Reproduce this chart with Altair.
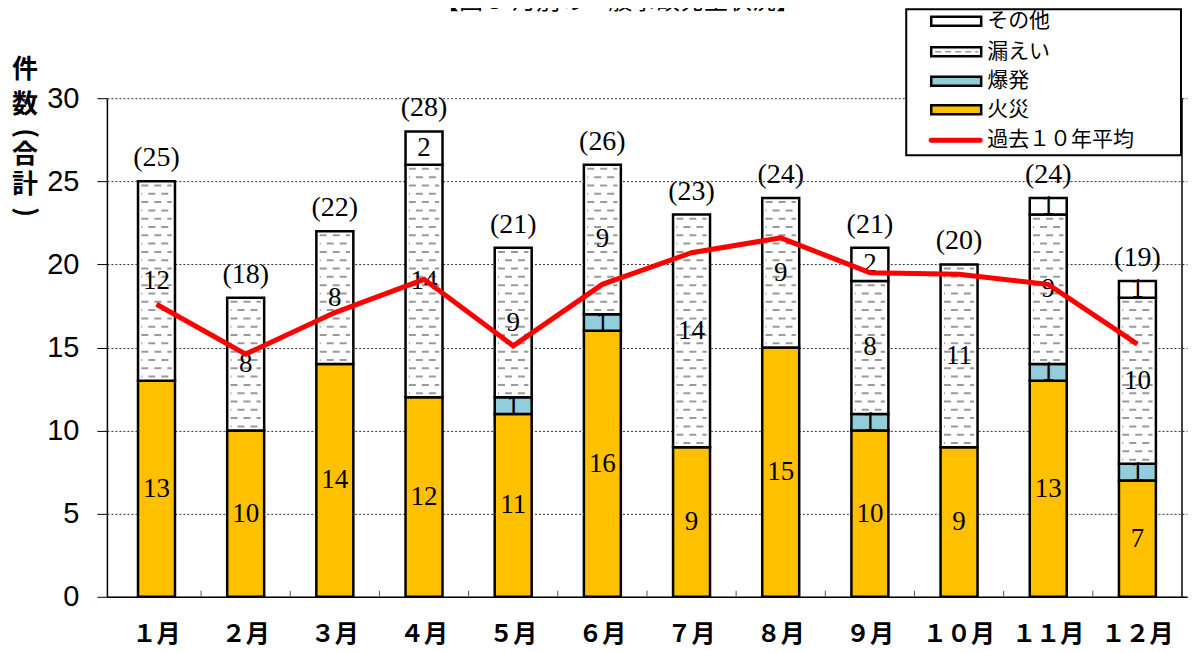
import altair as alt
import pandas as pd

# ---- data ----
months = ["１月", "２月", "３月", "４月", "５月", "６月", "７月", "８月", "９月", "１０月", "１１月", "１２月"]
fire = [13, 10, 14, 12, 11, 16, 9, 15, 10, 9, 13, 7]          # 火災
explosion = [0, 0, 0, 0, 1, 1, 0, 0, 1, 0, 1, 1]               # 爆発
leak = [12, 8, 8, 14, 9, 9, 14, 9, 8, 11, 9, 10]                # 漏えい
other = [0, 0, 0, 2, 0, 0, 0, 0, 2, 0, 1, 1]                    # その他
avg10 = [17.6, 14.6, 17.1, 19.1, 15.1, 18.8, 20.7, 21.6, 19.5, 19.4, 18.8, 15.2]  # 過去１０年平均
y_ticks = [0, 5, 10, 15, 20, 25, 30]

series_names = ["火災", "爆発", "漏えい", "その他"]
series_vals = [fire, explosion, leak, other]
series_colors = ["#FFC000", "#92CDDC", "#FFFFFF", "#FFFFFF"]
legend_order = ["その他", "漏えい", "爆発", "火災", "過去１０年平均"]

W, H = 1081, 499

# ---- tables ----
rows = []
dash_rows = []
for i, m in enumerate(months):
    base = 0
    for name, vals in zip(series_names, series_vals):
        v = vals[i]
        rows.append(dict(month=m, xc=i + 0.5, series=name, value=v,
                         y0=base, y1=base + v, mid=base + v / 2))
        if name == "漏えい" and v > 0:
            # hatch pattern rows (decoration only)
            k = 0
            yy = base + v - 0.25
            while yy > base + 0.1:
                dash_rows.append(dict(xc=i + 0.5, yy=yy, par=k % 2))
                yy -= 0.5
                k += 1
        base += v
seg = pd.DataFrame(rows)
seg = seg[seg.value > 0]
dashes = pd.DataFrame(dash_rows)

totals = [a + b + c + d for a, b, c, d in zip(fire, explosion, leak, other)]
mdf = pd.DataFrame(dict(month=months, xc=[i + 0.5 for i in range(12)], total=totals,
                        avg=avg10, tlabel=["(%d)" % t for t in totals]))
bounds = pd.DataFrame(dict(b=list(range(1, 12))))

xs = alt.Scale(domain=[0, 12], nice=False, zero=False)
ys = alt.Scale(domain=[0, 30], nice=False, zero=True)

xaxis = alt.Axis(labels=False, ticks=False, grid=False, title=None,
                 domainColor="black", domainWidth=1.5)
yaxis = alt.Axis(values=y_ticks, grid=True, gridDash=[2, 2], gridColor="#333", gridWidth=1,
                 tickSize=10, tickColor="black", tickWidth=1,
                 domainColor="black", domainWidth=1.5,
                 labelFont="Liberation Sans", labelFontSize=29,
                 labelColor="black", labelPadding=18, title=None)


def XQ(f):
    return alt.X(f, type="quantitative", scale=xs, axis=xaxis)


def YQ(f):
    return alt.Y(f, type="quantitative", scale=ys, axis=yaxis)


bars = alt.Chart(seg).mark_bar(width=37, stroke="black", strokeWidth=2.5).encode(
    x=XQ("xc"), y=YQ("y0"), y2="y1:Q",
    fill=alt.Fill("series:N", scale=alt.Scale(domain=series_names, range=series_colors), legend=None),
)

dash_layers = []
for p, off in [(0, 0), (1, 6)]:
    d = dashes[dashes.par == p]
    dash_layers.append(
        alt.Chart(d).transform_calculate(xl="datum.xc - 0.17", xr="datum.xc + 0.17")
        .mark_rule(color="#9a9a9a", strokeWidth=2, strokeDash=[7, 6], strokeDashOffset=off)
        .encode(x=XQ("xl"), x2="xr:Q", y=YQ("yy"))
    )

seg_labels = alt.Chart(seg).mark_text(font="Liberation Serif", fontSize=27, color="black",
                                      baseline="middle").encode(
    x=XQ("xc"), y=YQ("mid"), text="value:Q")

tot_labels = alt.Chart(mdf).mark_text(font="Liberation Serif", fontSize=28, color="black",
                                      baseline="middle", dy=-23).encode(
    x=XQ("xc"), y=YQ("total"), text="tlabel:N")

line = alt.Chart(mdf).mark_line(color="#FF0000", strokeWidth=5).encode(
    x=XQ("xc"), y=YQ("avg"))

xlabels = alt.Chart(mdf).mark_text(font="Noto Sans CJK JP", fontSize=24, fontWeight="bold",
                                   color="black", baseline="middle").encode(
    x=XQ("xc"), y=alt.value(H + 38), text="month:N")

xticks = alt.Chart(bounds).mark_rule(color="#555", strokeWidth=1).encode(
    x=XQ("b"), y=alt.value(H), y2=alt.value(H - 6))

one = pd.DataFrame({"a": [0]})

right_border = alt.Chart(one).mark_rule(color="black", strokeWidth=1.5).encode(
    x=alt.datum(12, scale=xs, axis=xaxis), y=alt.datum(0, scale=ys, axis=yaxis), y2=alt.datum(30))

# y axis title (vertical)
ytitle_layers = []
for c, yv, ang in [("件", -28, 0), ("数", 7, 0), ("(", 35, 90), ("合", 57, 0), ("計", 87, 0), (")", 114, 90)]:
    ytitle_layers.append(
        alt.Chart(one).mark_text(text=c, font="Noto Sans CJK JP", fontSize=26, fontWeight="bold",
                                 color="black", baseline="middle", align="center", angle=ang)
        .encode(x=alt.value(-82), y=alt.value(yv))
    )

title = alt.Chart(one).mark_text(text="【図５ 月別の一般事故発生状況】", font="Noto Sans CJK JP",
                                 fontSize=24, color="black", baseline="bottom", align="center").encode(
    x=alt.value(511), y=alt.value(-84))

# legend (manual)
leg_y = [-77, -46.5, -17, 11.5, 42]
leg_layers = [
    alt.Chart(one).mark_rect(fill="white", stroke="black", strokeWidth=2).encode(
        x=alt.value(800), x2=alt.value(1075), y=alt.value(-89), y2=alt.value(57))
]
leg_fill = {"その他": "#FFFFFF", "漏えい": "#FFFFFF", "爆発": "#92CDDC", "火災": "#FFC000"}
for name, yv in zip(legend_order, leg_y):
    if name in leg_fill:
        leg_layers.append(alt.Chart(one).mark_rect(fill=leg_fill[name], stroke="black", strokeWidth=2.5).encode(
            x=alt.value(825), x2=alt.value(875), y=alt.value(yv - 4.5), y2=alt.value(yv + 4.5)))
        if name == "漏えい":
            leg_layers.append(alt.Chart(one).mark_rule(color="#9a9a9a", strokeWidth=1.5, strokeDash=[6, 4]).encode(
                x=alt.value(829), x2=alt.value(872), y=alt.value(yv)))
    else:
        leg_layers.append(alt.Chart(one).mark_rule(color="#FF0000", strokeWidth=5, strokeCap="round").encode(
            x=alt.value(825), x2=alt.value(874), y=alt.value(yv)))
    leg_layers.append(alt.Chart(one).mark_text(text=name, font="Noto Sans CJK JP", fontSize=21,
                                               color="black", baseline="middle", align="left").encode(
        x=alt.value(881), y=alt.value(yv)))

chart = alt.layer(
    bars, *dash_layers, seg_labels, tot_labels, xticks, right_border, line, xlabels,
    *ytitle_layers, title, *leg_layers
).properties(
    width=W, height=H,
    padding={"left": 99, "top": 90, "right": 2, "bottom": 60},
    autosize=alt.AutoSizeParams(type="none"),
).configure_view(stroke=None)

chart.save("out.html", embed_options={"renderer": "svg", "actions": False})
